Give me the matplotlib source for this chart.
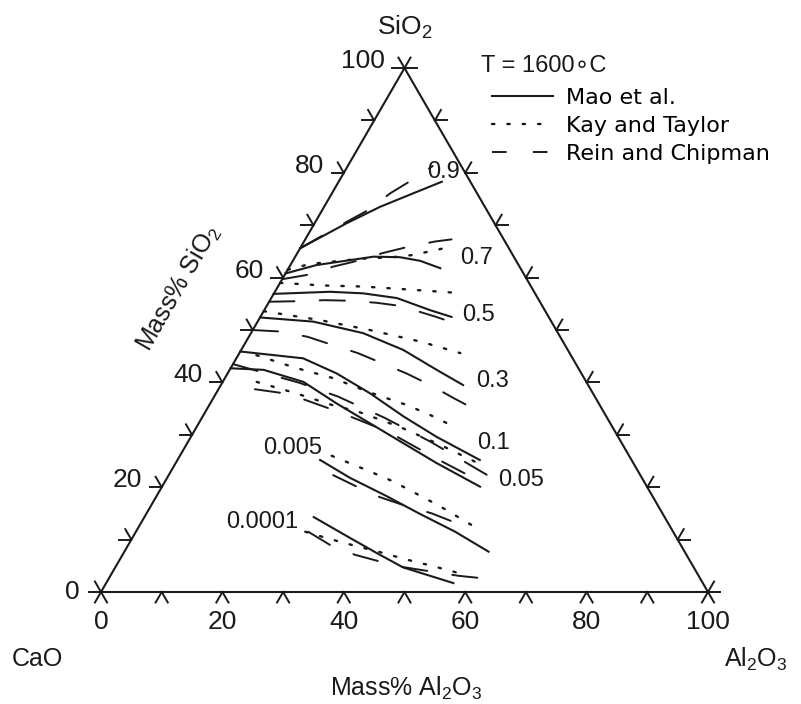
import numpy as np
import matplotlib.pyplot as plt
from matplotlib.lines import Line2D

plt.rcParams['font.family'] = ['Liberation Sans', 'DejaVu Sans']
plt.rcParams['mathtext.fontset'] = 'custom'
plt.rcParams['mathtext.rm'] = 'Liberation Sans'
plt.rcParams['mathtext.it'] = 'Liberation Sans:italic'

# iso-activity curves: mass% Al2O3 and mass% SiO2 (CaO = rest)
mao_al2o3 = {
    '0.9': [0, 5.3, 9.2, 13.4, 17.0],
    '0.7': [0, 4.3, 12.9, 17.3, 21.0, 25.0],
    '0.5': [0, 9.1, 14.7, 20.7, 27.3, 31.5],
    '0.3': [0, 9.2, 18.5, 26.7, 34.1, 39.9],
    '0.1': [0, 11.0, 18.0, 25.4, 33.1, 40.5, 49.8],
    '0.05': [0, 5.6, 13.3, 20.8, 28.2, 35.6, 43.0, 52.4],
    '0.005': [23.5, 30.1, 37.9, 45.1, 52.6, 60.0],
    '0.0001': [27.9, 35.9, 42.4, 47.4, 57.2],
}
mao_sio2 = {
    '0.9': [65.6, 70.4, 73.5, 76.1, 78.3],
    '0.7': [60.8, 62.4, 64.0, 63.9, 63.2, 61.8],
    '0.5': [56.9, 57.3, 57.0, 56.1, 53.8, 52.5],
    '0.3': [52.4, 51.6, 49.4, 46.2, 42.4, 39.5],
    '0.1': [45.9, 44.6, 41.7, 37.9, 33.5, 29.6, 25.2],
    '0.05': [42.7, 42.4, 40.1, 36.0, 32.2, 28.4, 24.6, 20.1],
    '0.005': [25.2, 21.8, 18.3, 14.9, 11.5, 7.7],
    '0.0001': [14.3, 10.3, 7.1, 4.7, 1.7],
}

kay_al2o3 = {
    '0.7': [0, 3.1, 10.9, 16.1, 19.1, 22.7, 24.6],
    '0.5': [0, 7.4, 14.1, 20.9, 30.0],
    '0.3': [0, 10.1, 19.3, 28.7, 36.4],
    '0.1': [3.0, 10.6, 17.9, 24.9, 32.5, 37.3, 42.3],
    '0.05': [5.6, 12.9, 20.2, 25.2, 33.5, 41.8, 49.8],
    '0.005': [25.0, 32.8, 37.6, 42.7, 47.6, 55.0],
    '0.0001': [27.9, 32.7, 37.5, 42.2, 47.2, 52.0, 56.8],
}
kay_sio2 = {
    '0.7': [61.5, 62.6, 63.6, 63.9, 64.3, 65.3, 65.9],
    '0.5': [59.0, 58.5, 58.3, 57.8, 57.1],
    '0.3': [53.6, 51.9, 50.0, 47.8, 45.6],
    '0.1': [45.2, 42.8, 40.8, 38.2, 35.7, 33.8, 31.6],
    '0.05': [40.1, 38.0, 35.7, 34.4, 31.5, 28.1, 24.6],
    '0.005': [26.0, 23.0, 21.1, 18.7, 16.4, 12.6],
    '0.0001': [11.5, 10.1, 8.8, 7.6, 6.2, 5.0, 3.7],
}

rein_al2o3 = {
    '0.9': [0, 5.2, 7.6, 9.6, 11.9, 14.0],
    '0.7': [0, 3.6, 7.2, 10.0, 14.1, 17.4, 21.6, 24.1],
    '0.5': [0, 4.5, 9.0, 12.9, 17.8, 22.0, 29.0, 32.3],
    '0.3': [0, 4.9, 9.7, 14.7, 19.5, 24.4, 29.5, 34.5, 39.6, 44.5],
    '0.1': [0, 12.8, 20.4, 30.2, 39.9, 53.1],
    '0.05': [6.0, 12.0, 21.9, 32.0, 41.8, 51.9],
    '0.005': [27.1, 32.1, 36.9, 41.8, 47.0, 51.3],
    '0.0001': [28.4, 33.2, 38.3, 43.1, 47.7, 52.5, 57.3, 61.7],
}
rein_sio2 = {
    '0.9': [65.6, 70.7, 72.9, 76.1, 78.6, 81.3],
    '0.7': [59.7, 60.5, 62.1, 63.0, 64.7, 65.8, 66.9, 67.3],
    '0.5': [55.4, 55.5, 55.7, 55.6, 55.2, 54.6, 52.5, 51.4],
    '0.3': [50.0, 49.7, 48.7, 47.1, 45.6, 43.7, 41.7, 39.5, 37.0, 34.7],
    '0.1': [43.5, 39.9, 37.3, 33.2, 28.7, 22.0],
    '0.05': [38.7, 37.8, 34.4, 30.6, 25.8, 21.1],
    '0.005': [22.3, 20.1, 18.1, 16.5, 15.0, 13.4],
    '0.0001': [11.5, 9.0, 7.1, 5.8, 4.7, 3.9, 3.1, 2.6],
}

# where the activity values are written (mass% Al2O3, mass% SiO2)
level_names = ['0.9', '0.7', '0.5', '0.3', '0.1', '0.05', '0.005', '0.0001']
level_al2o3 = [16.4, 30.1, 35.7, 44.3, 50.5, 58.5, 17.9, 19.8]
level_sio2 = [80.2, 63.7, 52.9, 40.3, 28.4, 21.4, 27.5, 13.4]

ink = '#1a1a1a'
solid_style = '-'
dot_style = (0, (1, 5.5))
dash_style = (0, (13, 13))


def tern(al, si):
    al = np.asarray(al, dtype=float)
    si = np.asarray(si, dtype=float)
    return al + si / 2.0, si * np.sqrt(3) / 2.0


def draw_frame(ax):
    x, y = tern([0, 100, 0, 0], [0, 0, 100, 0])
    ax.plot(x, y, color=ink, lw=1.5, solid_joinstyle='miter')
    L = 2.0
    t = np.arange(0, 101, 10)
    sides = [
        (tern(t, 0 * t), (240, 300)),        # bottom, Al2O3
        (tern(0 * t, t), (180, 120)),        # left, SiO2
        (tern(100 - t, t), (0, 60)),         # right
    ]
    for (px, py), angles in sides:
        for a in angles:
            dx = L * np.cos(np.radians(a))
            dy = L * np.sin(np.radians(a))
            for x0, y0 in zip(px, py):
                ax.plot([x0, x0 + dx], [y0, y0 + dy], color=ink, lw=1.4)

    for v in range(0, 101, 20):
        bx, by = tern(v, 0)
        ax.text(bx, by - 4.95, str(v), ha='center', va='center', fontsize=19, color=ink)
        lx, ly = tern(0, v)
        if v == 0:
            ax.text(lx - L - 1.5, ly, str(v), ha='right', va='center', fontsize=19, color=ink)
        else:
            ax.text(lx - L - 1.2, ly, str(v), ha='right', va='baseline', fontsize=19, color=ink)


def draw_set(ax, al, si, style, lw):
    for key in al:
        x, y = tern(al[key], si[key])
        ax.plot(x, y, color=ink, lw=lw, linestyle=style, dash_capstyle='round')


fig = plt.figure(figsize=(8.01, 7.04), dpi=100)
ax = fig.add_axes([0, 0, 1, 1])
ax.set_xlim(-101 / 6.07, 700 / 6.07)
ax.set_ylim(-112 / 6.05, 592 / 6.05)
ax.axis('off')

draw_frame(ax)
draw_set(ax, mao_al2o3, mao_sio2, solid_style, 1.5)
draw_set(ax, kay_al2o3, kay_sio2, dot_style, 1.7)
draw_set(ax, rein_al2o3, rein_sio2, dash_style, 1.4)

lx, ly = tern(level_al2o3, level_sio2)
for name, x, y in zip(level_names, lx, ly):
    ax.text(x, y, name, ha='center', va='center', fontsize=17, color=ink)

ax.text(50.1, 93.4, 'SiO$_2$', ha='center', va='center', fontsize=19, color=ink)
ax.text(-10.4, -11.1, 'CaO', ha='center', va='center', fontsize=18, color=ink)
ax.text(107.9, -11.2, 'Al$_2$O$_3$', ha='center', va='center', fontsize=18, color=ink)
ax.text(50.2, -15.9, 'Mass% Al$_2$O$_3$', ha='center', va='center', fontsize=18, color=ink)
ax.text(12.85, 50.2, 'Mass% SiO$_2$', ha='center', va='center', fontsize=18,
        rotation=60, rotation_mode='anchor', color=ink)

ax.text(62.6, 86.9, 'T = 1600\u2218C', ha='left', va='center', fontsize=17, color=ink)
handles = [
    Line2D([], [], color=ink, lw=1.5, linestyle=solid_style),
    Line2D([], [], color=ink, lw=1.7, linestyle=dot_style, dash_capstyle='round'),
    Line2D([], [], color=ink, lw=1.4, linestyle=(0, (7.5, 13.5))),
]
ax.legend(handles, ['Mao et al.', 'Kay and Taylor', 'Rein and Chipman'],
          loc='upper left', bbox_to_anchor=(492 / 801, 1 - 88 / 704),
          bbox_transform=fig.transFigure, frameon=False, borderpad=0,
          borderaxespad=0, handlelength=2.75, handletextpad=0.6,
          labelspacing=0.36, prop={'family': 'DejaVu Sans', 'size': 16})

fig.savefig('out.png', dpi=100)
